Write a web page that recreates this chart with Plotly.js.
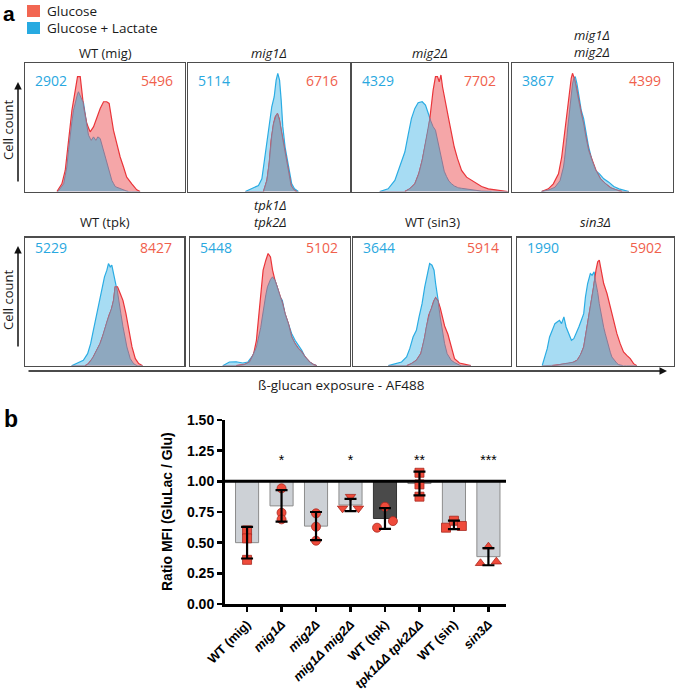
<!DOCTYPE html>
<html><head><meta charset="utf-8">
<script src="https://cdn.plot.ly/plotly-3.0.1.min.js"></script>
<style>html,body{margin:0;padding:0;background:#fff}#chart{width:675px;height:691px}</style>
</head><body><div id="chart"></div>
<script>
// ---------- Panel a: histogram data (x = AF488 bin position 0-100, y = relative cell count 0-100) ----------
const panelNames = ['WT (mig)', '<i>mig1Δ</i>', '<i>mig2Δ</i>', '<i>mig1Δ</i><br><i>mig2Δ</i>', 'WT (tpk)', '<i>tpk1Δ</i><br><i>tpk2Δ</i>', 'WT (sin3)', '<i>sin3Δ</i>'];
const mfiLac = [2902, 5114, 4329, 3867, 5229, 5448, 3644, 1990];
const mfiGlu = [5496, 6716, 7702, 4399, 8427, 5102, 5914, 5902];

const wtMigGluX = [19.8,22.9,25.0,27.1,29.2,31.3,32.7,34.4,35.4,36.5,38.5,40.6,42.7,44.8,46.9,49.0,51.0,52.5,53.8,55.2,57.3,59.4,61.5,63.5,66.7,69.8,71.9];
const wtMigGluY = [0,6.0,16.4,42.6,63.4,79.1,89.6,89.6,79.1,66.1,53.0,46.5,50.4,58.2,64.8,70.0,70.0,68.7,59.5,47.8,37.3,26.9,19.1,11.2,6.0,1.3,0];
const wtMigLacX = [20.4,24.0,26.0,28.1,30.2,31.9,33.3,35.0,36.5,37.9,39.6,41.3,42.7,44.2,45.4,46.9,48.3,50.0,52.1,54.2,56.3,59.4,62.5,64.6];
const wtMigLacY = [0,6.0,19.1,45.2,63.4,73.9,77.8,72.6,68.7,56.9,43.9,39.9,42.6,39.9,42.6,41.3,34.7,26.9,19.1,8.6,3.9,2.1,0.8,0];

const mig1GluX = [46.7,48.8,50.2,51.4,52.9,53.9,55.3,56.4,57.6,59.0,60.5,62.1,63.7,65.2,67.2];
const mig1GluY = [0,8.6,21.7,39.9,53.0,58.2,60.8,56.9,47.8,37.3,26.9,13.8,4.7,1.3,0];
const mig1LacX = [35.5,39.5,43.6,45.7,47.3,48.8,50.2,51.8,53.3,54.5,55.5,56.6,57.6,58.6,60.0,61.5,62.7,64.1,65.8,68.2];
const mig1LacY = [0,2.1,4.7,9.9,24.3,37.3,47.8,66.1,73.9,86.9,92.2,86.9,71.3,50.4,34.7,24.3,13.8,6.0,2.1,0];

const mig2GluX = [34.0,37.2,40.4,42.9,45.1,47.2,49.4,50.6,52.1,53.6,54.9,56.0,57.1,58.1,59.2,60.7,62.2,63.9,65.6,67.7,70.3,73.5,76.7,79.9,83.1,87.4,93.8,99.8];
const mig2GluY = [0,2.1,6.0,13.8,24.3,37.3,50.4,63.4,79.1,89.6,89.6,85.6,90.9,81.7,73.9,66.1,55.6,45.2,34.7,25.6,16.4,11.2,8.6,6.0,3.9,2.1,0.8,0];
const mig2LacX = [17.9,23.3,27.6,30.8,34.0,36.1,38.2,40.4,42.5,45.1,47.2,49.4,51.5,53.6,55.3,57.1,59.0,61.8,65.0,68.2,72.4,76.7,83.1,89.5];
const mig2LacY = [0,2.1,8.6,19.1,30.8,43.9,56.9,64.8,69.2,70.0,67.4,59.5,51.7,47.8,38.6,26.9,16.4,8.6,4.7,2.9,2.1,1.3,0.3,0];

const mig12GluX = [18.5,22.7,25.8,29.0,31.0,32.7,34.2,35.6,36.9,37.7,38.8,40.0,41.5,43.1,44.6,46.0,47.7,49.8,52.3,55.0,58.1,61.3,64.4,68.5];
const mig12GluY = [0,2.1,6.0,13.8,26.9,45.2,63.4,79.1,88.3,92.2,88.3,81.7,71.3,60.8,53.0,42.6,32.1,24.3,16.4,9.9,6.0,2.9,1.3,0];
const mig12LacX = [18.5,23.1,26.9,30.0,32.1,33.5,34.8,36.3,37.3,38.5,39.4,40.4,41.5,43.1,44.6,46.0,47.7,49.8,51.9,54.4,57.1,60.2,63.3,66.5,69.6,72.7];
const mig12LacY = [0,1.3,3.4,8.6,19.1,32.1,50.4,68.7,81.7,88.3,89.6,84.3,76.5,63.4,56.9,45.2,34.7,24.3,16.4,13.8,9.9,7.3,3.9,2.1,0.8,0];

const wtTpkGluX = [37.6,39.7,42.2,44.3,47.0,49.2,51.3,52.7,54.0,55.5,56.5,58.0,59.7,61.4,63.3,65.0,67.1,69.2,71.3,73.8];
const wtTpkGluY = [0,1.6,5.5,10.7,17.2,25.0,34.1,39.3,43.2,51.0,61.5,61.5,56.3,51.0,40.6,27.6,14.6,5.5,1.6,0];
const wtTpkLacX = [29.1,33.3,36.5,39.2,41.1,42.8,44.9,47.0,48.5,49.8,51.3,52.3,53.4,54.4,55.5,57.0,58.6,60.1,61.8,63.9,66.0,68.1,70.3];
const wtTpkLacY = [0,2.1,4.2,9.4,17.2,27.6,40.6,51.0,61.5,69.3,74.5,79.7,77.1,78.4,71.9,64.1,53.6,40.6,27.6,14.6,5.5,1.6,0];

const tpkGluX = [28.7,34.0,37.1,39.7,41.4,42.8,44.1,45.6,47.3,48.7,50.2,51.5,53.0,54.4,56.1,57.8,59.3,61.4,63.5,65.6,67.7,69.8,71.9,74.7,77.2,79.3];
const tpkGluY = [0,1.0,2.9,9.4,19.8,38.0,58.9,74.5,82.3,87.5,84.9,74.5,66.7,61.5,54.9,48.4,40.6,32.8,22.4,17.2,13.3,10.7,6.8,2.9,0.8,0];
const tpkLacX = [20.3,24.5,28.7,32.9,36.1,39.2,41.4,43.5,45.1,46.6,48.3,49.8,51.5,53.0,54.4,56.1,57.6,59.3,61.4,63.5,65.6,67.7,69.8,71.9,74.7,77.2,79.3];
const tpkLacY = [0,2.9,3.1,2.1,2.9,8.1,14.6,25.0,38.0,51.0,61.5,66.7,69.3,66.7,61.5,53.6,51.0,40.6,32.8,25.0,19.8,15.9,12.0,6.8,2.9,1.0,0];

const wtSinGluX = [33.8,36.9,40.0,42.8,44.9,46.3,47.8,49.5,50.9,52.2,53.7,55.1,56.4,57.9,60.0,62.1,64.2,67.3,70.4,74.6];
const wtSinGluY = [0,1.6,4.2,9.4,19.8,30.2,39.3,44.5,50.0,53.1,50.5,45.3,37.5,31.0,24.5,14.1,5.5,2.1,1.0,0];
const wtSinLacX = [22.2,26.4,30.6,33.8,35.8,37.9,40.0,41.7,43.6,45.3,47.0,48.4,49.9,51.2,52.2,53.7,55.1,56.4,57.9,59.5,62.1,65.2,68.3];
const wtSinLacY = [0,1.6,2.9,6.8,13.3,22.4,27.6,38.0,48.4,61.5,71.9,79.7,78.4,74.5,64.1,51.0,38.0,27.6,17.2,9.4,4.2,1.6,0];

const sin3GluX = [22.6,26.8,31.0,35.2,38.4,40.5,42.6,44.1,45.8,47.5,48.9,50.4,51.5,52.5,53.6,55.3,57.4,59.5,61.6,63.7,65.8,67.9,70.0,72.2,74.3,76.4];
const sin3GluY = [0,0.8,1.6,2.1,4.2,8.1,14.6,25.0,38.0,51.0,61.5,74.5,81.0,82.3,74.5,64.1,56.3,45.8,35.4,25.0,17.2,10.7,8.1,5.5,1.6,0];
const sin3LacX = [16.2,17.9,19.4,20.9,22.6,24.3,25.7,27.2,28.5,30.0,31.4,33.1,34.8,36.3,37.8,39.5,41.1,42.6,43.7,45.1,46.8,47.9,49.2,50.0,51.3,52.5,54.2,56.3,58.4,60.5,62.7,64.8,66.9];
const sin3LacY = [0,6.8,13.3,22.4,27.6,32.8,34.1,35.4,32.8,38.0,30.2,25.0,19.8,21.1,25.0,30.2,35.4,40.6,53.6,64.1,71.9,70.6,73.2,66.7,58.9,48.4,35.4,25.0,14.6,6.8,2.9,0.8,0];

// ---------- Panel b: ratio data ----------
const strains = ['WT (mig)', '<i>mig1Δ</i>', '<i>mig2Δ</i>', '<i>mig1Δ mig2Δ</i>', 'WT (tpk)', '<i>tpk1ΔΔ tpk2ΔΔ</i>', 'WT (sin)', '<i>sin3Δ</i>'];
const ratioMean = [0.50, 0.80, 0.635, 0.807, 0.697, 0.982, 0.645, 0.386];
const ratioSD   = [0.129, 0.129, 0.115, 0.05, 0.085, 0.097, 0.035, 0.07];
const rep1 = [0.60, 0.943, 0.739, 0.78, 0.622, 1.07, 0.622, 0.332];
const rep2 = [0.535, 0.744, 0.63, 0.875, 0.793, 0.975, 0.679, 0.467];
const rep3 = [0.36, 0.69, 0.516, 0.78, 0.676, 0.875, 0.636, 0.345];
const signif = ['', '*', '', '*', '', '**', '', '***'];

// ---------- rendering ----------
const W = 675, H = 691;
const px = x => x / W, py = y => 1 - y / H;

const curves = [
  [wtMigGluX, wtMigGluY, wtMigLacX, wtMigLacY],
  [mig1GluX, mig1GluY, mig1LacX, mig1LacY],
  [mig2GluX, mig2GluY, mig2LacX, mig2LacY],
  [mig12GluX, mig12GluY, mig12LacX, mig12LacY],
  [wtTpkGluX, wtTpkGluY, wtTpkLacX, wtTpkLacY],
  [tpkGluX, tpkGluY, tpkLacX, tpkLacY],
  [wtSinGluX, wtSinGluY, wtSinLacX, wtSinLacY],
  [sin3GluX, sin3GluY, sin3LacX, sin3LacY]
];
// box pixel geometry [left, right, top, bottom]
const boxes = [
  [25.3,185,63.3,191.5],[187.7,350,63.3,191.5],[351.7,508,63.3,191.5],[511.7,673,63.3,191.5],
  [25.3,184.3,237.5,365.7],[190.3,350,237.5,365.7],[353.3,511,237.5,365.7],[516.7,674,237.5,365.7]
];
const numOffsetY = [17,17,17,17,10,10,10,10];
const titleOffset1 = [10.5,10.5,10.5,10.5,15.5,15.5,15.5,15.5];
const titleOffset2 = [20,20,20,20,24.5,24.5,24.5,24.5];

function interp(xs, ys, x) {
  if (x <= xs[0] || x >= xs[xs.length - 1]) return 0;
  for (let j = 1; j < xs.length; j++) {
    if (x <= xs[j]) { const t = (x - xs[j-1]) / (xs[j] - xs[j-1]); return ys[j-1] + t * (ys[j] - ys[j-1]); }
  }
  return 0;
}
function overlap(ax, ay, bx, by) {
  let xs = Array.from(new Set(ax.concat(bx))).sort((a, b) => a - b);
  const outX = [], outY = [];
  for (let i = 0; i < xs.length; i++) {
    const x = xs[i], a = interp(ax, ay, x), b = interp(bx, by, x);
    if (i > 0) {
      const x0 = xs[i-1], a0 = interp(ax, ay, x0), b0 = interp(bx, by, x0);
      const d0 = a0 - b0, d1 = a - b;
      if (d0 * d1 < 0) {
        const t = d0 / (d0 - d1), xc = x0 + t * (x - x0);
        outX.push(xc); outY.push(a0 + t * (a - a0));
      }
    }
    outX.push(x); outY.push(Math.min(a, b));
  }
  return [outX, outY];
}

const data = [];
const layout = {
  width: W, height: H, autosize: false,
  margin: {l: 0, r: 0, t: 0, b: 0},
  paper_bgcolor: '#fff', plot_bgcolor: 'rgba(0,0,0,0)',
  showlegend: false,
  font: {family: 'Open Sans, sans-serif', color: '#1a1a1a'},
  annotations: [], shapes: []
};

const BLUE_FILL = '#a7dcf3', BLUE_LINE = '#2aace3';
const RED_FILL = '#f5a6a8', RED_LINE = '#ea3439';
const OVER_FILL = '#8ea8bf', OVER_LINE = '#8b7a96';

curves.forEach((c, i) => {
  const k = i + 2;
  const xa = 'x' + k, ya = 'y' + k;
  const [l, r, t, b] = boxes[i];
  const axCommon = {showline: true, mirror: true, linecolor: '#4d4d4d', linewidth: 1.2, ticks: '', showticklabels: false, showgrid: false, zeroline: false, fixedrange: true};
  layout['xaxis' + k] = Object.assign({domain: [px(l), px(r)], range: [0, 100], anchor: ya}, axCommon);
  layout['yaxis' + k] = Object.assign({domain: [py(b), py(t)], range: [0, 100], anchor: xa}, axCommon);
  const [gx, gy, lx, ly] = c;
  data.push({type: 'scatter', mode: 'lines', x: lx, y: ly, xaxis: xa, yaxis: ya, fill: 'tozeroy', fillcolor: BLUE_FILL, line: {color: BLUE_LINE, width: 1.2}, hoverinfo: 'skip'});
  data.push({type: 'scatter', mode: 'lines', x: gx, y: gy, xaxis: xa, yaxis: ya, fill: 'tozeroy', fillcolor: RED_FILL, line: {color: RED_LINE, width: 1.2}, hoverinfo: 'skip'});
  const [ox, oy] = overlap(gx, gy, lx, ly);
  data.push({type: 'scatter', mode: 'lines', x: ox, y: oy, xaxis: xa, yaxis: ya, fill: 'tozeroy', fillcolor: OVER_FILL, line: {color: OVER_LINE, width: 1}, hoverinfo: 'skip'});

  // title
  const twoLine = panelNames[i].indexOf('<br>') >= 0;
  layout.annotations.push({xref: 'paper', yref: 'paper', x: px((l + r) / 2), y: py(t - (twoLine ? titleOffset2[i] : titleOffset1[i])), text: panelNames[i], showarrow: false, xanchor: 'center', yanchor: 'middle', font: {size: 13, color: '#1a1a1a'}});
  // MFI numbers
  layout.annotations.push({xref: 'paper', yref: 'paper', x: px(l + 8), y: py(t + numOffsetY[i]), text: String(mfiLac[i]), showarrow: false, xanchor: 'left', yanchor: 'middle', font: {size: 14, color: '#29a8e0'}});
  layout.annotations.push({xref: 'paper', yref: 'paper', x: px(r - 10), y: py(t + numOffsetY[i]), text: String(mfiGlu[i]), showarrow: false, xanchor: 'right', yanchor: 'middle', font: {size: 14, color: '#f0604c'}});
});

// legend
layout.shapes.push({type: 'rect', xref: 'paper', yref: 'paper', x0: px(27), x1: px(40), y0: py(17), y1: py(5), fillcolor: '#f26652', line: {width: 0}});
layout.shapes.push({type: 'rect', xref: 'paper', yref: 'paper', x0: px(27), x1: px(40), y0: py(34), y1: py(22), fillcolor: '#27aae1', line: {width: 0}});
layout.annotations.push({xref: 'paper', yref: 'paper', x: px(45), y: py(11), text: 'Glucose', showarrow: false, xanchor: 'left', yanchor: 'middle', font: {size: 13.5}});
layout.annotations.push({xref: 'paper', yref: 'paper', x: px(45), y: py(28), text: 'Glucose + Lactate', showarrow: false, xanchor: 'left', yanchor: 'middle', font: {size: 13.5}});

// panel letters
layout.annotations.push({xref: 'paper', yref: 'paper', x: px(1), y: py(0), text: '<b>a</b>', showarrow: false, xanchor: 'left', yanchor: 'top', font: {family: 'Liberation Sans, Arial, sans-serif', size: 21, color: '#000'}});
layout.annotations.push({xref: 'paper', yref: 'paper', x: px(2), y: py(419), text: '<b>b</b>', showarrow: false, xanchor: 'left', yanchor: 'middle', font: {family: 'Liberation Sans, Arial, sans-serif', size: 23, color: '#000'}});

// Cell count labels and arrows
[[130, 82, 183], [300, 246, 348]].forEach(([cy, tip, tail]) => {
  layout.annotations.push({xref: 'paper', yref: 'paper', x: px(8), y: py(cy), text: 'Cell count', textangle: -90, showarrow: false, xanchor: 'center', yanchor: 'middle', font: {size: 13}});
  layout.annotations.push({xref: 'paper', yref: 'paper', x: px(18), y: py(tip), ax: 0, ay: tail - tip, text: '', showarrow: true, arrowhead: 2, arrowsize: 1, arrowwidth: 1.5, arrowcolor: '#111'});
});
// x axis arrow & label
layout.annotations.push({xref: 'paper', yref: 'paper', x: px(667), y: py(371), ax: -(667 - 27), ay: 0, text: '', showarrow: true, arrowhead: 2, arrowsize: 1, arrowwidth: 1.5, arrowcolor: '#111'});
layout.annotations.push({xref: 'paper', yref: 'paper', x: px(341), y: py(385), text: 'ß-glucan exposure - AF488', showarrow: false, xanchor: 'center', yanchor: 'middle', font: {size: 13.5}});

// ---------- panel b ----------
const idx = strains.map((_, i) => i);
const symbols = ['square', 'circle', 'circle', 'triangle-down', 'circle', 'square', 'square', 'triangle-up'];
const spread = [0, 0, 0, 1, 1, 0, 1, 1];
const dx = 0.23;
const barColors = strains.map((_, i) => i === 4 ? '#4a4a4a' : '#cdd1d6');
const barLines = strains.map((_, i) => i === 4 ? '#333' : '#8c8c8c');

data.push({type: 'bar', x: idx, y: ratioMean.map(v => v - 1), base: 1, width: 0.67, xaxis: 'x', yaxis: 'y', marker: {color: barColors, line: {color: barLines, width: 1}}, hoverinfo: 'skip'});
[[rep1, -1], [rep2, 0], [rep3, 1]].forEach(([rep, side]) => {
  data.push({type: 'scatter', mode: 'markers', x: idx.map(i => i + (spread[i] ? side * dx : 0)), y: rep, xaxis: 'x', yaxis: 'y',
    marker: {symbol: symbols, size: 9, color: '#ef4b3b', line: {color: '#a8281f', width: 0.8}}, hoverinfo: 'skip'});
});
data.push({type: 'scatter', mode: 'markers', x: idx, y: ratioMean, xaxis: 'x', yaxis: 'y', marker: {size: 1, color: 'rgba(0,0,0,0)'},
  error_y: {type: 'data', array: ratioSD, visible: true, color: '#000', thickness: 2.2, width: 6}, hoverinfo: 'skip'});
data.push({type: 'scatter', mode: 'text', x: idx, y: idx.map(() => 1.165), text: signif, textposition: 'middle center', xaxis: 'x', yaxis: 'y',
  textfont: {family: 'Liberation Sans, Arial, sans-serif', size: 14, color: '#000'}, hoverinfo: 'skip'});

layout.xaxis = {domain: [px(225), px(506)], range: [-0.64, 7.51], anchor: 'y', tickmode: 'array', tickvals: idx, ticktext: strains.map(s => '<b>' + s + '</b>'),
  tickangle: -45, ticks: 'outside', ticklen: 5, tickwidth: 2.5, tickcolor: '#000', showline: true, linecolor: '#000', linewidth: 3,
  showgrid: false, zeroline: false, fixedrange: true, tickfont: {family: 'Liberation Sans, Arial, sans-serif', size: 12.8, color: '#000'}};
layout.yaxis = {domain: [py(604), py(420)], range: [0, 1.5], anchor: 'x', tickmode: 'array', tickvals: [0, 0.25, 0.5, 0.75, 1, 1.25, 1.5],
  tickformat: '.2f', ticks: 'outside', ticklen: 5, tickwidth: 2.5, tickcolor: '#000', showline: true, linecolor: '#000', linewidth: 3,
  showgrid: false, zeroline: false, fixedrange: true, tickfont: {family: 'Liberation Sans, Arial, sans-serif', size: 14, color: '#000', weight: 'bold'}};
layout.shapes.push({type: 'line', xref: 'x domain', yref: 'y', x0: 0, x1: 1, y0: 1, y1: 1, line: {color: '#000', width: 3}});
layout.annotations.push({xref: 'paper', yref: 'paper', x: px(167), y: py(512), text: '<b>Ratio MFI (GluLac / Glu)</b>', textangle: -90, showarrow: false, xanchor: 'center', yanchor: 'middle', font: {family: 'Liberation Sans, Arial, sans-serif', size: 14, color: '#000'}});

Plotly.newPlot('chart', data, layout, {staticPlot: true, displayModeBar: false});
</script>
</body></html>
